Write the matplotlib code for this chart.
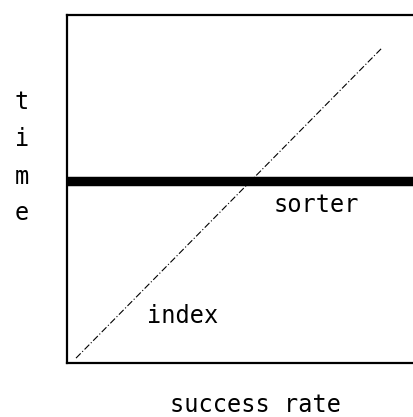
import numpy as np
import matplotlib.pyplot as plt

# data (axes run 0..1, no scale shown)
success_rate = [0.026, 0.91]
index_time = [0.014, 0.905]
sorter_time = 0.523
y_label = "time"
x_label = "success rate"

plt.rcParams['font.family'] = ['DejaVu Sans Mono']

fig = plt.figure(figsize=(4.13, 4.17), dpi=100)
ax = fig.add_axes([67 / 413, 54 / 417, 346 / 413, 348 / 417])
ax.set_xlim(0, 1)
ax.set_ylim(0, 1)

# index line: thin dash-dot diagonal
ax.plot(success_rate, index_time, color='black', lw=0.8,
        linestyle=(0, (6, 2, 1, 2)))

# sorter line: flat and thick
ax.axhline(sorter_time, color='black', lw=6.8, solid_capstyle='butt')

ax.text(0.72, 0.454, "sorter", fontsize=17, ha='center', va='center')
ax.text(0.333, 0.134, "index", fontsize=17, ha='center', va='center')

for spine in ax.spines.values():
    spine.set_linewidth(1.6)
ax.spines['right'].set_visible(False)
ax.set_xticks([])
ax.set_yticks([])

# vertical stacked letters for the y label
ypos = [0.75, 0.645, 0.535, 0.43]
for ch, yy in zip(y_label, ypos):
    ax.text(-0.13, yy, ch, fontsize=17, ha='center', va='center',
            transform=ax.transAxes)

fig.text(255 / 413, 1 - 405 / 417, x_label, fontsize=17,
         ha='center', va='center')

fig.savefig("out.png", dpi=100)
